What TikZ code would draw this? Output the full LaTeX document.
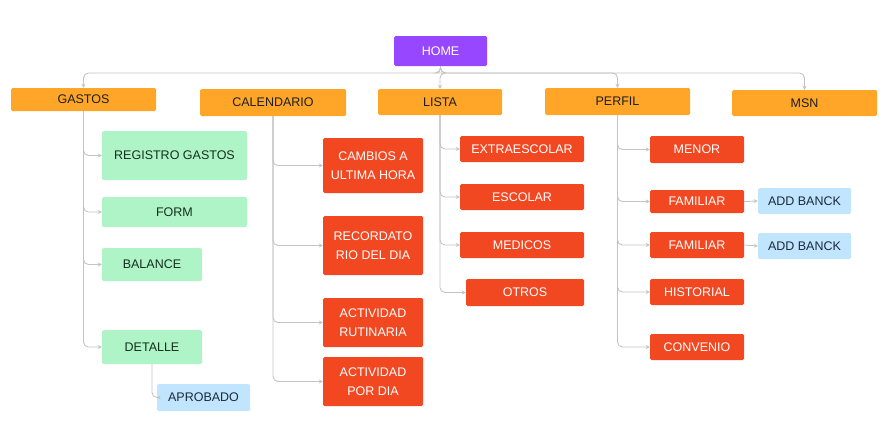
\documentclass[tikz,border=0pt]{standalone}
\usepackage{fontspec}
\setmainfont{Liberation Sans}
\usetikzlibrary{arrows.meta}
\definecolor{cpurple}{HTML}{9747FF}
\definecolor{corange}{HTML}{FFA629}
\definecolor{cred}{HTML}{F24822}
\definecolor{cgreen}{HTML}{AFF4C6}
\definecolor{cblue}{HTML}{C2E5FF}
\definecolor{cline}{HTML}{C4C4C4}
\definecolor{cdark}{HTML}{1E1E1E}
\definecolor{cdgreen}{HTML}{14301E}
\definecolor{cdblue}{HTML}{1A2A3A}
\tikzset{
  base/.style={inner sep=0pt, rounded corners=1.5pt, align=center,
    font=\fontsize{12.5}{19.5}\selectfont},
  purplebox/.style={base, fill=cpurple, text=white},
  orangebox/.style={base, fill=corange, text=cdark},
  redbox/.style={base, fill=cred, text=white},
  greenbox/.style={base, fill=cgreen, text=cdgreen},
  bluebox/.style={base, fill=cblue, text=cdblue},
  conn/.style={draw=cline, line width=0.9pt, rounded corners=5pt,
    -{Stealth[length=4pt,width=4pt]}},
  connplain/.style={draw=cline, line width=0.9pt, rounded corners=5pt}
}
\newcommand{\mybox}[7]{%
  \node[#2, minimum width={(#5)-(#3)}, minimum height={(#6)-(#4)}]
    (#1) at ({((#3)+(#5))/2},{((#4)+(#6))/2}) {#7};}
\begin{document}
\begin{tikzpicture}[x=1pt,y=-1pt]
\useasboundingbox (0,0) rectangle (890,431);
% top level
\mybox{home}{purplebox}{394}{36}{487}{66}{HOME}
\mybox{gastos}{orangebox}{11}{88}{156}{111}{GASTOS}
\mybox{cal}{orangebox}{200}{89}{346}{116}{CALENDARIO}
\mybox{lista}{orangebox}{378}{89}{502}{115}{LISTA}
\mybox{perfil}{orangebox}{545}{88}{690}{115}{PERFIL}
\mybox{msn}{orangebox}{732}{90}{877}{116}{MSN}
% gastos children
\mybox{reg}{greenbox}{102}{131}{247}{180}{REGISTRO GASTOS}
\mybox{form}{greenbox}{102}{197}{247}{227}{FORM}
\mybox{bal}{greenbox}{102}{248}{202}{281}{BALANCE}
\mybox{det}{greenbox}{102}{330}{202}{364}{DETALLE}
\mybox{apr}{bluebox}{157}{384}{250}{411}{APROBADO}
% calendario children
\mybox{camb}{redbox}{323}{138}{423}{193}{CAMBIOS A\\ULTIMA HORA}
\mybox{rec}{redbox}{323}{216}{423}{275}{RECORDATO\\RIO DEL DIA}
\mybox{rut}{redbox}{323}{298}{423}{347}{ACTIVIDAD\\RUTINARIA}
\mybox{pdia}{redbox}{323}{357}{423}{406}{ACTIVIDAD\\POR DIA}
% lista children
\mybox{extra}{redbox}{460}{136}{584}{162}{EXTRAESCOLAR}
\mybox{esc}{redbox}{460}{184}{584}{210}{ESCOLAR}
\mybox{med}{redbox}{460}{232}{584}{258}{MEDICOS}
\mybox{otros}{redbox}{466}{279}{584}{306}{OTROS}
% perfil children
\mybox{menor}{redbox}{650}{136}{744}{163}{MENOR}
\mybox{fam1}{redbox}{650}{190}{744}{213}{FAMILIAR}
\mybox{add1}{bluebox}{758}{188}{851}{214}{ADD BANCK}
\mybox{fam2}{redbox}{650}{232}{744}{258}{FAMILIAR}
\mybox{add2}{bluebox}{758}{233}{851}{259}{ADD BANCK}
\mybox{hist}{redbox}{650}{279}{744}{305}{HISTORIAL}
\mybox{conv}{redbox}{650}{334}{744}{360}{CONVENIO}
% bus
\coordinate (bus) at (440,73);
\foreach \t in {gastos,lista,perfil,msn}{
  \draw[conn] (home.south) -- (home.south |- bus) -| (\t.north);
}
% children connectors
\foreach \c in {reg,form,bal,det}{ \draw[conn] (gastos.south) |- (\c.west); }
\draw[conn] (det.south) |- (apr.west);
\foreach \c in {camb,rec,rut,pdia}{ \draw[conn] (cal.south) |- (\c.west); }
\foreach \c in {extra,esc,med,otros}{ \draw[conn] (lista.south) |- (\c.west); }
\foreach \c in {menor,fam1,fam2,hist,conv}{ \draw[conn] (perfil.south) |- (\c.west); }
\draw[conn] (fam1.east) -- (add1.west);
\draw[conn] (fam2.east) -- (add2.west);
\end{tikzpicture}
\end{document}
